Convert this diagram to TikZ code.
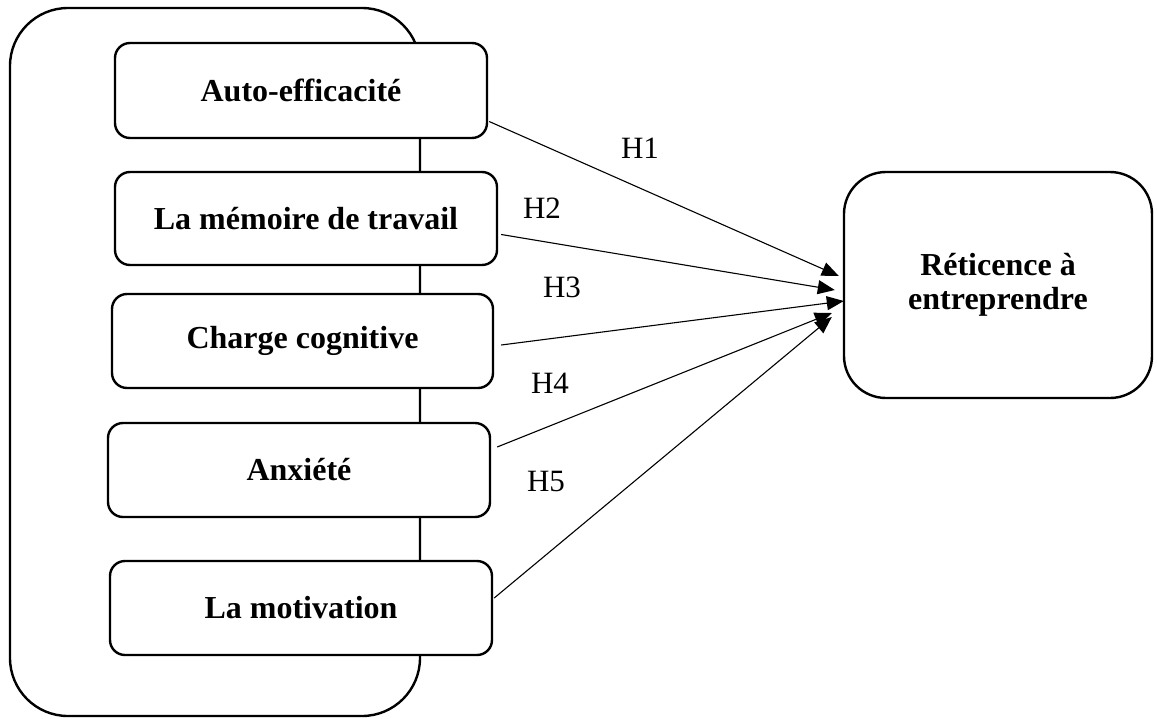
\documentclass[tikz,border=0pt]{standalone}
\usepackage{fontspec}
\setmainfont{Liberation Serif}
\usetikzlibrary{arrows.meta,calc}

\tikzset{
  factor/.style={draw, line width=2.4pt, rounded corners=15pt, fill=white,
    font=\fontsize{32}{38}\selectfont\bfseries, align=center, inner sep=0pt},
  groupbox/.style={draw, line width=2.4pt, rounded corners=58pt, inner sep=0pt},
  outcome/.style={draw, line width=2.4pt, rounded corners=42pt, fill=white,
    font=\fontsize{32}{38}\selectfont\bfseries, align=center, inner sep=0pt},
  hyp/.style={line width=1.1pt, -{Triangle[length=17pt,width=14pt]}, shorten >=0pt},
  hlabel/.style={font=\fontsize{31}{36}\selectfont, inner sep=0pt}
}

\begin{document}
\begin{tikzpicture}[x=1pt,y=-1pt]
  \useasboundingbox (0,0) rectangle (1157,718);

  % enclosing group of the five factors
  \node[groupbox, minimum width=410pt, minimum height=708pt] (group) at (215,362) {};

  % factors
  \node[factor, minimum width=372pt, minimum height=95pt] (f1) at (301,90.5) {Auto-efficacité};
  \node[factor, minimum width=382pt, minimum height=93pt] (f2) at (306,218.5) {La mémoire de travail};
  \node[factor, minimum width=381pt, minimum height=94pt] (f3) at (302.5,341) {Charge cognitive};
  \node[factor, minimum width=382pt, minimum height=94pt] (f4) at (299,470) {Anxiété};
  \node[factor, minimum width=382pt, minimum height=94pt] (f5) at (301,608) {La motivation};

  % outcome
  \node[outcome, minimum width=308pt, minimum height=226pt] (out) at (998,285)
    {Réticence à\\[-4pt]entreprendre};

  % arrow end points on the outcome's left side
  \coordinate (t1) at ($(out.west)+(-4,-9)$);
  \coordinate (t2) at ($(out.west)+(-8,5)$);
  \coordinate (t3) at ($(out.west)+(1,16)$);
  \coordinate (t4) at ($(out.west)+(-11,28)$);
  \coordinate (t5) at ($(out.west)+(-11,32)$);

  % hypotheses
  \draw[hyp] ($(f1.east)+(1,31)$) -- (t1);
  \draw[hyp] ($(f2.east)+(3,16)$) -- (t2);
  \draw[hyp] ($(f3.east)+(7,4)$) -- (t3);
  \draw[hyp] ($(f4.east)+(6,-23)$) -- (t4);
  \draw[hyp] ($(f5.east)+(1,-10)$) -- (t5);

  \node[hlabel] (h1) at (640,148) {H1};
  \node[hlabel] (h2) at (542,208) {H2};
  \node[hlabel] (h3) at (562,287) {H3};
  \node[hlabel] (h4) at (550,383) {H4};
  \node[hlabel] (h5) at (546,481) {H5};
\end{tikzpicture}
\end{document}
